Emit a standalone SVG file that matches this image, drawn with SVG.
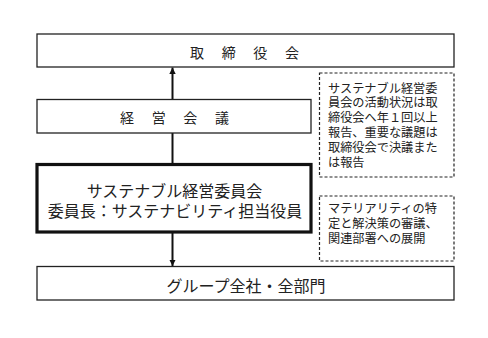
<svg xmlns="http://www.w3.org/2000/svg" width="488" height="338" viewBox="0 0 488 338">
<defs>
<style>
.box{fill:#fff;stroke:#222;stroke-width:1.3}
.thick{fill:#fff;stroke:#111;stroke-width:3.2}
.dash{fill:#fff;stroke:#222;stroke-width:1.2;stroke-dasharray:3 2}
text{font-family:"Noto Sans CJK JP","Noto Sans",sans-serif;fill:#222}
.t14{font-size:14px}
.t16{font-size:16px}
.t12{font-size:12.2px}
.conn{stroke:#111;stroke-width:2;fill:none}
</style>
<marker id="ah" viewBox="0 0 10 10" refX="10" refY="5" markerWidth="3.2" markerHeight="3.2" orient="auto" markerUnits="strokeWidth">
<path d="M0,0 L10,5 L0,10 z" fill="#111"/>
</marker>
</defs>
<rect width="488" height="338" fill="#fff"/>
<g id="connectors">
<line class="conn" x1="172.5" y1="99" x2="172.5" y2="67.5" marker-end="url(#ah)"/>
<line class="conn" x1="172.5" y1="164" x2="172.5" y2="133"/>
<line class="conn" x1="172.5" y1="233" x2="172.5" y2="266" marker-end="url(#ah)"/>
</g>
<g id="board">
<rect class="box" x="37" y="34" width="417" height="33"/>
<text class="t14" x="197 228.7 260.3 292" y="57.5" text-anchor="middle">取締役会</text>
</g>
<g id="management">
<rect class="box" x="37" y="99.5" width="274" height="33.5"/>
<text class="t14" x="127 158.7 190.3 222" y="123" text-anchor="middle">経営会議</text>
</g>
<g id="committee">
<rect class="thick" x="37" y="164.5" width="274" height="67.5"/>
<text class="t16" text-anchor="middle"><tspan x="174.5" y="196.5">サステナブル経営委員会</tspan><tspan x="175" y="216.5">委員長：サステナビリティ担当役員</tspan></text>
</g>
<g id="group">
<rect class="box" x="37" y="266.5" width="417" height="33.5"/>
<text class="t16" x="246" y="291.5" text-anchor="middle">グループ全社・全部門</text>
</g>
<g id="note1">
<rect class="dash" x="319.5" y="73" width="134.5" height="104"/>
<text class="t12"><tspan x="328" y="92.5">サステナブル経営委</tspan><tspan x="328" y="107.3">員会の活動状況は取</tspan><tspan x="328" y="122.1">締役会へ年１回以上</tspan><tspan x="328" y="136.9">報告、重要な議題は</tspan><tspan x="328" y="151.7">取締役会で決議また</tspan><tspan x="328" y="166.5">は報告</tspan></text>
</g>
<g id="note2">
<rect class="dash" x="319.5" y="196" width="134.5" height="65"/>
<text class="t12"><tspan x="328" y="212.7">マテリアリティの特</tspan><tspan x="328" y="228">定と解決策の審議、</tspan><tspan x="328" y="243.3">関連部署への展開</tspan></text>
</g>
</svg>
